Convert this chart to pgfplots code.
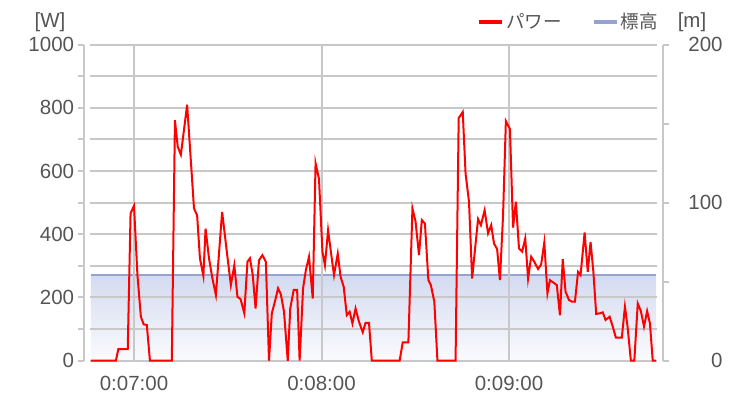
\documentclass[border=0pt]{standalone}
\usepackage{pgfplots}
\pgfplotsset{compat=1.18}
\usepackage{fontspec}
\setmainfont{Liberation Sans}
\newfontfamily\jp{Noto Sans CJK JP}
\definecolor{gridgray}{RGB}{200,200,200}
\definecolor{txt}{RGB}{85,85,85}
\definecolor{elev}{RGB}{150,163,208}
\definecolor{elevtop}{RGB}{212,219,240}
\definecolor{elevbot}{RGB}{251,251,254}
\newcommand{\tf}{\fontsize{20.5bp}{24bp}\selectfont}
\newcommand{\jf}{\fontsize{18.5bp}{22bp}\selectfont}
\pgfplotstableread{
t P
406.2 0
414.2 0
415.0 37
418.0 37
418.9 466
420.0 490
421.1 271
422.2 139
423.1 115
424.1 113
425.1 0
432.1 0
433.1 761
434.0 677
435.0 652
437.0 810
439.2 482
440.2 460
441.1 324
442.2 268
442.9 418
444.0 324
445.1 260
446.2 208
448.2 471
449.7 345
451.0 239
452.1 302
453.1 202
454.1 195
455.3 150
456.3 313
457.1 324
458.0 271
458.9 165
460.0 318
461.1 334
462.2 313
463.2 0
464.1 150
465.1 187
466.1 229
467.0 210
468.0 155
469.2 0
470.0 165
471.1 224
472.2 224
473.0 0
474.1 229
475.0 287
476.0 329
477.2 197
478.1 625
479.2 575
480.3 345
481.1 302
482.1 413
483.0 345
484.0 271
485.2 339
486.1 266
487.1 234
488.1 144
489.0 155
489.9 118
490.9 165
492.0 123
493.2 90
494.1 120
495.2 120
496.1 0
505.0 0
506.0 58
507.8 58
509.1 482
510.1 440
511.2 334
512.1 445
513.1 434
514.2 255
515.0 239
516.1 187
517.1 0
522.9 0
523.9 768
525.2 787
526.1 592
527.2 503
528.2 260
529.1 350
530.1 448
531.0 429
532.2 476
533.3 403
534.3 429
535.2 371
536.2 353
537.1 255
538.1 461
539.0 758
540.3 733
541.3 421
542.2 503
543.2 355
544.2 345
545.2 387
546.1 260
547.1 329
548.1 313
549.3 290
550.3 305
551.3 374
552.3 213
553.1 255
554.1 248
555.3 239
556.3 144
557.2 321
558.1 218
559.2 192
560.1 187
561.1 187
562.1 281
562.9 271
564.2 406
565.2 281
566.1 376
567.0 281
567.9 148
569.1 150
570.0 153
570.9 129
572.2 139
573.2 108
574.2 73
576.1 73
577.1 171
577.9 111
579.0 0
580.1 0
581.2 181
582.2 157
583.2 108
584.2 157
585.1 118
586.0 0
587.1 0
}\power
\pgfplotstableread{
t H
406.2 54.2
587.1 54.2
}\elevation
\begin{document}
\begin{tikzpicture}
\path[use as bounding box] (0,0) rectangle (750bp,411bp);
% elevation axis (right)
\begin{axis}[at={(84.3bp,50.3bp)}, anchor=south west, scale only axis,
  width=579bp, height=316bp, xmin=404.1, xmax=589.4, ymin=0, ymax=200,
  axis x line=none, axis y line*=right,
  ytick={0,50,100,150,200}, yticklabels={0,,100,,200},
  tick align=outside, major tick length=6bp,
  axis line style={draw=gridgray,line width=2bp},
  tick style={draw=gridgray,line width=2bp},
  yticklabel style={font=\tf, text=txt, anchor=east, inner sep=0pt, xshift=53.5bp},
  clip=false]
\addplot[draw=none, top color=elevtop, bottom color=elevbot] table[x=t,y=H] {\elevation} \closedcycle;
\addplot[elev, line width=2bp] table[x=t,y=H] {\elevation};
\end{axis}
% power axis line (left)
\begin{axis}[at={(84.3bp,50.3bp)}, anchor=south west, scale only axis,
  width=579bp, height=316bp, xmin=404.1, xmax=589.4, ymin=0, ymax=1000,
  axis x line=none, axis y line*=left,
  ytick={0,100,...,1000}, yticklabels={0,,200,,400,,600,,800,,1000},
  tick align=outside, major tick length=6bp,
  axis line style={draw=gridgray,line width=2bp},
  tick style={draw=gridgray,line width=2bp},
  yticklabel style={font=\tf, text=txt, anchor=east, inner sep=0pt, xshift=-4bp}]
\end{axis}
% main plot area
\begin{axis}[at={(90.25bp,50.3bp)}, anchor=south west, scale only axis,
  width=566.25bp, height=316bp, xmin=406, xmax=587.2, ymin=0, ymax=1000,
  xtick={420,480,540}, xticklabels={0:07:00,0:08:00,0:09:00},
  ytick={0,100,...,1000}, yticklabels={},
  grid=major, grid style={gridgray, line width=2bp},
  axis line style={draw=none}, major tick length=0pt,
  xticklabel style={font=\tf, text=txt, anchor=north, inner sep=0pt, yshift=-15bp},
  clip=false,
  legend columns=2,
  legend style={at={(0.683,1.072)}, anchor=west, draw=none, fill=none,
    font=\jp\jf, text=txt, inner sep=0pt,
    /tikz/every even column/.append style={column sep=28bp}},
  legend image code/.code={\draw[#1, line width=4bp] (0bp,0bp) -- (23bp,0bp);}]
\addplot[red, line width=2bp] table[x=t,y=P] {\power};
\addlegendentry{パワー}
\addlegendimage{elev}
\addlegendentry{標高}
\end{axis}
\node[font=\tf, text=txt] at (50bp,389bp) {[W]};
\node[font=\tf, text=txt] at (692bp,389bp) {[m]};
\end{tikzpicture}
\end{document}
